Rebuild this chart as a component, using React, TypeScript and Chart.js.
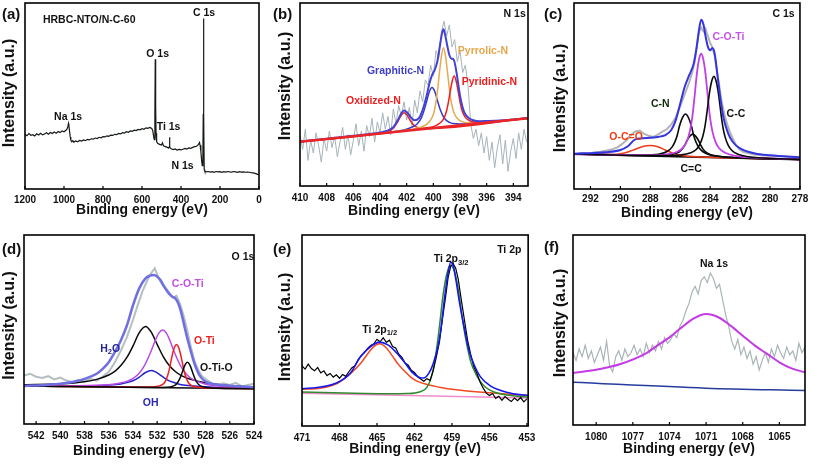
import React, { useEffect, useRef } from "react";
import { Chart, registerables } from "chart.js";

Chart.register(...registerables);

const FONT = '"Liberation Sans", Arial, Helvetica, sans-serif';

// ---------------- (a) survey ----------------
const surveyTicks = [1200, 1000, 800, 600, 400, 200, 0];
const surveyEnergy = [1200,1190,1180,1170,1160,1150,1140,1130,1120,1110,1100,1090,1080,1070,1060,1050,1040,1030,1020,1010,1000,990,985,980,977,975,972,968,965,960,955,950,940,930,920,910,900,890,880,870,860,850,840,830,820,810,800,790,780,770,760,750,740,730,720,710,700,690,680,670,660,650,640,630,620,610,600,590,580,570,560,550,545,540,537,534,532,530,528,525,520,510,500,495,490,480,470,465,461,459,457,450,440,430,420,410,400,390,380,370,360,350,340,330,320,310,305,302,298,294,291,288,286,284.5,283,281,278,270,260,250,240,230,220,210,200,190,180,170,160,150,140,130,120,110,100,90,80,70,60,50,40,30,20,10,0];
const surveyIntensity = [29.4,28.6,29.8,28.9,29.2,28.5,29.7,29.0,29.9,29.1,29.6,30.2,29.5,30.4,29.8,30.6,30.0,30.9,30.3,31.2,30.8,31.6,32.2,33.5,35.2,34.0,31.5,28.0,26.2,25.4,26.0,25.2,25.8,25.4,26.1,25.8,26.4,26.0,26.7,26.4,27.0,26.8,27.4,27.1,27.8,27.5,28.2,28.0,28.6,28.3,29.0,28.8,29.4,29.2,29.9,29.6,30.3,30.1,30.8,30.5,31.2,31.0,31.6,31.4,32.0,31.8,32.4,32.1,32.9,32.6,33.1,32.5,31.5,28.0,26.5,40.0,69.8,45.0,30.0,25.5,24.6,24.0,23.6,24.8,23.2,22.8,22.4,22.0,22.5,27.8,22.3,21.6,21.2,21.5,20.9,21.3,21.0,21.4,21.8,21.5,22.1,21.9,22.4,22.8,23.0,24.0,25.0,23.5,20.0,15.0,12.5,14.0,40.0,91.6,40.0,10.5,9.5,9.2,9.4,9.1,9.3,9.0,9.4,9.2,9.3,9.0,9.3,9.1,9.4,9.2,9.1,9.4,9.2,9.0,9.3,9.1,9.2,9.0,9.1,9.0,8.8,8.7,8.4,8.0,7.6];

// ---------------- (b) N 1s ----------------
const nTicks = [410, 408, 406, 404, 402, 400, 398, 396, 394];
const nRawStart = 410;
const nRawStep = 0.2;
const nRaw = [28,20,31,14,25,18,29,22,13,26,19,30,21,27,16,24,32,20,28,17,25,34,22,30,19,33,27,37,24,35,29,40,31,38,28,42,34,44,38,46,36,43,33,47,40,52,46,58,55,66,60,74,70,84,90,82,88,76,80,68,74,62,66,55,34,26,31,22,29,18,27,14,24,10,21,28,12,25,8,19,26,15,29,20,31,24];
const nBgE = [410, 392.9];
const nBgI = [24.2, 37.0];
const nOxE = [410,404,403.5,403,402.7,402.4,402.2,402,401.7,401.4,401,400.5,392.9];
const nOxI = [24.2,28.8,29.6,31.6,34.7,38.7,40.0,39.0,35.4,32.8,31.6,31.3,37.0];
const nGrE = [410,403,402.4,401.9,401.5,401.2,400.9,400.7,400.5,400.3,400.1,399.9,399.7,399.5,399.2,398.8,398.3,397.6,392.9];
const nGrI = [24.2,29.6,30.3,31.3,32.5,34.0,37.2,41.2,46.3,51.5,53.8,51.8,46.9,42.1,37.3,34.8,34.0,33.9,37.0];
const nPyrE = [410,402.5,401.5,400.7,400.3,400.0,399.84,399.69,399.54,399.39,399.24,399.09,398.94,398.79,398.64,398.44,398.14,397.74,397.24,396.24,392.9];
const nPyrI = [24.2,30.1,31.2,32.8,35.1,39.1,44.2,51.8,62.0,71.1,75.6,71.3,62.4,52.5,45.1,39.8,36.5,34.9,34.5,34.7,37.0];
const nPydE = [410,401.5,400.5,399.9,399.54,399.24,399.04,398.89,398.74,398.59,398.44,398.29,398.14,397.99,397.84,397.64,397.34,396.94,396.44,395.44,392.9];
const nPydI = [24.2,30.7,31.8,32.7,34.2,36.6,40.2,45.0,51.4,57.1,60.1,57.4,51.9,45.7,41.1,37.9,35.9,35.0,34.9,35.3,37.0];
const nEnvE = [410,406,404,403.5,403,402.7,402.4,402.2,402,401.7,401.4,401.1,400.8,400.5,400.3,400.1,399.9,399.7,399.5,399.35,399.24,399.1,398.95,398.8,398.65,398.5,398.35,398.2,398,397.7,397.4,397,396.5,396,395,392.9];
const nEnvI = [24.3,27.4,29.3,30.1,32.2,35.5,39.7,41.2,40.5,37.6,35.9,36.9,41.6,49.4,55.9,60.6,63.3,68.0,76.9,83.4,85.6,82.1,76.5,71.6,69.6,69.3,65.8,59.1,49.4,40.6,37.5,35.9,35.4,35.5,35.8,37.1];

// ---------------- (c) C 1s ----------------
const cTicks = [292, 290, 288, 286, 284, 282, 280, 278];
const cRawE = [293,292.6,292.2,291.8,291.4,291,290.6,290.2,289.9,289.6,289.3,289,288.7,288.4,288.1,287.8,287.5,287.2,286.9,286.6,286.3,286,285.8,285.6,285.4,285.2,285.05,284.9,284.8,284.7,284.6,284.5,284.4,284.3,284.2,284.1,284,283.9,283.8,283.7,283.6,283.5,283.4,283.3,283.2,283.1,283,282.85,282.7,282.5,282.3,282.1,281.8,281.5,281.1,280.6,280,279.4,278.7,278];
const cRawI = [18.6,19.3,18.9,19.6,19.9,20.6,21.2,22.4,24.1,26.2,29.0,30.9,31.4,29.6,28.6,28.0,29.2,30.8,32.1,34.6,38.5,44.6,48.8,53.1,57.4,62.6,68.0,76.3,82.1,85.4,86.8,85.2,84.4,86.0,83.1,81.0,78.5,77.0,74.5,71.6,66.4,60.8,56.0,50.2,45.8,42.0,38.6,34.5,31.0,27.4,24.0,21.7,20.0,19.3,18.6,18.2,17.9,17.6,17.4,17.2];
const cBaseE = [293.1, 278];
const cBaseI = [18.8, 15.9];
const cOcoE = [293.1,291,290.5,290,289.5,289,288.5,288,287.5,287,286.5,286,285.5,285,278];
const cOcoI = [18.8,18.5,18.6,19.0,19.9,21.4,22.9,23.4,22.7,21.0,19.3,18.2,17.6,17.3,15.9];
const cCnE = [293.1,289,288,287.45,286.85,286.55,286.35,286.2,286.05,285.85,285.65,285.45,285.25,285.1,284.95,284.75,284.45,284.05,283.45,282.65,278];
const cCnI = [18.8,18.25,18.35,18.7,20.3,22.5,25.5,28.9,33.9,38.4,40.3,38.3,33.8,28.8,25.3,22.2,19.9,18.4,17.6,17.1,15.9];
const cCdcE = [293.1,287.4,286.76,286.36,286.06,285.86,285.66,285.56,285.36,285.16,284.96,284.76,284.66,284.46,284.26,283.96,283.56,282.96,278];
const cCdcI = [18.8,18.0,18.3,18.9,20.0,21.6,24.1,25.9,28.4,29.5,28.3,25.8,24.0,21.3,19.7,18.4,17.7,17.1,15.9];
const cCotE = [293.1,288,287.2,286.2,285.8,285.55,285.35,285.2,285.1,285.0,284.9,284.8,284.7,284.6,284.5,284.4,284.3,284.2,284.1,284.0,283.85,283.65,283.4,283.0,282.4,281.6,278];
const cCotI = [18.8,18.2,18.4,20.0,22.4,25.8,31.3,38.3,45.2,53.2,61.2,67.2,71.2,72.8,71.1,67.1,61.1,53.1,45.0,38.0,31.0,25.5,21.9,19.5,17.9,17.1,15.9];
const cCcE = [293.1,287,286,285.35,284.95,284.7,284.5,284.35,284.25,284.15,284.05,283.95,283.85,283.75,283.65,283.55,283.45,283.35,283.25,283.15,283.0,282.8,282.55,282.15,281.55,280.75,278];
const cCcI = [18.8,17.95,18.3,19.3,21.1,23.9,28.1,33.5,39.0,45.3,51.6,56.2,59.3,60.6,59.3,56.2,51.5,45.2,38.8,33.3,27.9,23.6,20.7,18.7,17.5,16.8,15.9];
const cEnvE = [293.1,291,290,289.5,289,288,287.5,287,286.6,286.3,286,285.7,285.4,285.1,284.9,284.75,284.6,284.45,284.3,284.15,284.0,283.85,283.7,283.5,283.3,283.1,282.8,282.5,282,281,280,278];
const cEnvI = [19.0,19.8,21.0,23.0,26.7,27.5,28.0,29.0,31.7,37.0,46.0,55.0,61.2,67.4,76.4,85.3,91.0,88.5,81.8,76.4,74.6,75.8,72.8,60.3,47.8,38.0,29.9,25.4,21.8,19.1,18.1,17.0];

// ---------------- (d) O 1s ----------------
const oTicks = [542, 540, 538, 536, 534, 532, 530, 528, 526, 524];
const oRawE = [543,542.5,542,541.5,541,540.5,540,539.5,539,538.5,538,537.5,537,536.5,536,535.5,535,534.5,534,533.6,533.2,532.8,532.5,532.2,531.9,531.6,531.3,531,530.7,530.4,530.1,529.8,529.5,529.2,528.9,528.6,528.3,528,527.5,527,526.5,526,525.5,525,524.5,524];
const oRawI = [25.7,26.6,25.0,24.4,25.3,23.6,24.6,23.0,22.3,23.4,22.8,23.9,22.9,25.1,27.6,32.5,38.8,46.0,55.0,63.0,70.4,76.2,79.8,82.4,77.5,74.0,72.2,69.5,67.0,67.8,63.5,57.0,49.0,40.5,33.0,28.6,25.4,23.8,21.6,20.9,21.5,20.7,21.8,19.9,20.6,21.3];
const oBaseE = [543, 524];
const oBaseI = [20.1, 18.7];
const oH2oE = [543,540,538,537,536,535.5,535,534.5,534,533.5,532.96,532.5,532,531.5,531,530.5,530,529,528,526,524];
const oH2oI = [20.8,21.3,22.4,23.6,25.9,27.8,30.9,35.2,41.2,48.1,51.6,48.7,42.1,35.7,31.0,27.8,25.6,23.2,21.8,20.2,19.6];
const oOhE = [543,538,536,535,534.5,534,533.5,533,532.46,532,531.5,531,530.5,530,529,527,524];
const oOhI = [20.2,20.1,20.6,21.2,21.9,22.9,24.7,27.1,28.3,27.1,24.8,22.8,21.7,20.8,20.1,19.3,18.9];
const oCotE = [543,539.5,536.5,535.05,534.05,533.55,533.05,532.55,532.15,531.85,531.55,531.25,530.95,530.55,530.05,529.55,529.05,528.05,526.55,524];
const oCotI = [20.3,20.2,20.6,21.7,23.9,26.4,30.9,37.8,44.3,48.2,49.7,48.2,44.2,37.6,30.6,26.1,23.6,21.2,19.9,19.15];
const oOtiE = [543,533,532.2,531.7,531.4,531.2,531.0,530.85,530.7,530.55,530.4,530.25,530.1,529.95,529.8,529.6,529.4,529.1,528.6,527.4,524];
const oOtiI = [20.1,19.55,19.7,20.4,21.8,24.4,28.8,33.5,37.9,40.9,42.0,40.9,37.8,33.4,28.7,24.3,21.7,20.1,19.4,19.0,18.7];
const oOtioE = [543,531.5,530.5,530.1,529.9,529.75,529.65,529.5,529.35,529.2,529.05,528.9,528.7,528.5,528.1,527.5,524];
const oOtioI = [20.1,19.35,20.6,24.4,27.9,30.5,31.8,32.7,31.8,29.7,26.9,24.3,21.9,20.5,19.5,19.05,18.7];
const oEnvE = [543,541,540,539,538,537,536.5,536,535.5,535,534.5,534,533.5,533,532.6,532.3,532,531.7,531.4,531,530.7,530.5,530.3,530.1,529.9,529.7,529.5,529.2,529,528.7,528.4,528,527.5,527,526,525,524];
const oEnvI = [20.1,20.8,21.3,22.2,23.9,26.6,29.2,32.7,38.0,44.2,52.1,62.7,71.5,76.8,78.5,78.9,78.0,75.9,72.4,68.8,67.1,66.5,64.4,60.9,56.0,50.4,45.1,38.0,33.6,28.3,24.8,22.5,21.3,20.8,20.2,19.9,19.5];

// ---------------- (e) Ti 2p ----------------
const tTicks = [471, 468, 465, 462, 459, 456, 453];
const tRawE = [471,470.75,470.5,470.25,470,469.75,469.5,469.25,469,468.75,468.5,468.25,468,467.75,467.5,467.25,467,466.75,466.5,466.25,466,465.75,465.5,465.25,465,464.75,464.5,464.25,464,463.75,463.5,463.25,463,462.75,462.5,462.25,462,461.75,461.5,461.25,461,460.75,460.5,460.25,460,459.75,459.5,459.3,459.1,458.9,458.7,458.5,458.25,458,457.75,457.5,457.25,457,456.75,456.5,456.25,456,455.75,455.5,455.25,455,454.75,454.5,454.25,454,453.75,453.5,453.25,453];
const tRawI = [31.5,29.8,32.4,30.1,28.9,30.6,27.8,28.9,26.4,27.5,25.6,26.8,25.0,27.0,26.0,28.4,30.5,31.6,34.8,37.0,38.4,40.6,42.2,43.0,45.4,44.1,46.2,43.8,44.9,41.6,40.8,37.6,35.9,33.0,31.8,29.2,28.0,25.8,24.6,23.4,24.8,23.9,29.0,36.0,44.0,56.5,68.0,78.0,83.6,85.0,82.6,77.0,66.0,55.5,45.0,37.5,31.0,27.6,23.0,19.8,17.2,16.0,17.0,14.5,15.6,13.5,15.4,14.0,12.8,14.6,13.2,14.9,12.6,14.2];
const tBaseE = [471, 452.9];
const tBaseI = [17.2, 14.6];
const tP32E = [471,466,464.1,462.6,461.6,461,460.6,460.3,460,459.7,459.4,459.1,458.8,458.5,458.2,457.9,457.5,457,456.5,456,455.1,454.1,452.9];
const tP32I = [17.8,17.05,16.9,17.0,17.8,20.2,26.7,37.1,52.1,69.0,80.0,84.1,80.9,71.8,57.8,45.7,33.7,26.1,21.5,18.9,16.8,15.8,15.1];
const tP12E = [471,469.5,468.2,467.1,466.3,465.8,465.3,464.8,464.3,463.8,463.3,462.9,462.3,461.8,461,460,459,458,456,454,452.9];
const tP12I = [19.2,19.8,22.2,27.5,32.8,37.3,41.3,43.0,41.2,37.0,32.3,29.5,25.6,23.5,21.7,20.3,19.2,18.5,17.4,16.5,16.0];
const tEnvE = [471,469.5,468.2,467.1,466.35,465.56,464.8,464.13,463.48,462.8,462.2,461.65,461.26,460.87,460.5,460.1,459.85,459.6,459.3,459.1,458.9,458.65,458.4,458,457.6,457.2,456.7,455.9,455.1,454.1,452.9];
const tEnvI = [19.5,20.4,22.6,27.9,36.0,41.3,43.9,42.5,38.7,33.4,28.2,25.6,25.1,27.4,32.6,42.2,52.6,66.6,80.5,85.7,84.0,75.3,64.8,50.9,38.7,31.7,25.6,20.9,18.6,16.9,16.0];

// ---------------- (f) Na 1s ----------------
const naTicks = [1080, 1077, 1074, 1071, 1068, 1065];
const naRawStart = 1081.9;
const naRawStep = 0.25;
const naRaw = [38,34,40,36,42,35,39,33,37,41,34,44,31,28,36,39,34,40,36,38,42,37,40,36,43,38,42,39,44,40,46,43,45,48,46,52,55,60,64,70,73,69,76,78,75,80,77,72,74,66,58,52,44,40,45,37,41,35,39,32,36,29,34,38,33,40,36,42,38,35,41,37,39,34,43,38,41];
const naBaseE = [1081.9, 1071, 1062.9];
const naBaseI = [22.5, 19.4, 18.1];
const naFitE = [1081.9,1080,1078,1076,1075,1074,1073,1072,1071,1070,1069,1068,1067,1066,1065,1064,1062.9];
const naFitI = [27.4,29.1,32.1,37.4,41.8,46.1,51.4,56.1,58.4,56.7,52.3,47.0,41.8,37.4,33.0,29.8,27.7];

// ---------------- types & helpers ----------------
type Series = { xs: number[]; ys: number[]; color: string; width: number; smooth?: boolean };
type Part = { t: string; sub?: boolean };
type Note = { parts: Part[]; x: number; y: number; color?: string; align?: "left" | "center" | "right" };
type PanelSpec = {
  letter: string; left: number; top: number; w: number; h: number;
  padL: number; padR: number; padT: number; axisH: number;
  xMin: number; xMax: number; ticks: number[]; tickPad: number;
  xTitleY: number; yTitleX: number; yTitleY: number; letterY: number;
  series: Series[]; notes: Note[];
};

const gridX = (start: number, step: number, n: number) => Array.from({ length: n }, (_, i) => +(start - step * i).toFixed(3));
const T = (t: string): Part[] => [{ t }];

const PANELS: PanelSpec[] = [
  {
    letter: "(a)", left: 0, top: 0, w: 271, h: 232, padL: 25, padR: 12, padT: 3, axisH: 43,
    xMin: 0, xMax: 1200, ticks: surveyTicks, tickPad: 5, xTitleY: 210, yTitleX: 10, yTitleY: 93, letterY: 14.5,
    series: [{ xs: surveyEnergy, ys: surveyIntensity, color: "#141a14", width: 1.2 }],
    notes: [
      { parts: T("HRBC-NTO/N-C-60"), x: 1108, y: 90.6, align: "left" },
      { parts: T("C 1s"), x: 282, y: 94.4 },
      { parts: T("O 1s"), x: 520, y: 72.7 },
      { parts: T("Na 1s"), x: 979, y: 38.8 },
      { parts: T("Ti 1s"), x: 464, y: 33.4 },
      { parts: T("N 1s"), x: 392, y: 12.3 },
    ],
  },
  {
    letter: "(b)", left: 271, top: 0, w: 271, h: 232, padL: 29, padR: 14, padT: 3, axisH: 46,
    xMin: 392.9, xMax: 410, ticks: nTicks, tickPad: 6, xTitleY: 211, yTitleX: 15, yTitleY: 86, letterY: 14.5,
    series: [
      { xs: nBgE, ys: nBgI, color: "#e8262a", width: 2.5 },
      { xs: nEnvE, ys: nEnvI, color: "#4242d6", width: 2, smooth: true },
      { xs: nPydE, ys: nPydI, color: "#ee2020", width: 1.5, smooth: true },
      { xs: nPyrE, ys: nPyrI, color: "#e7a94f", width: 1.5, smooth: true },
      { xs: nGrE, ys: nGrI, color: "#3a3ac6", width: 1.5, smooth: true },
      { xs: nOxE, ys: nOxI, color: "#ee2020", width: 1.5, smooth: true },
      { xs: gridX(nRawStart, nRawStep, nRaw.length), ys: nRaw, color: "#a6b3b8", width: 1 },
    ],
    notes: [
      { parts: T("N 1s"), x: 393.9, y: 93.7 },
      { parts: T("Graphitic-N"), x: 402.84, y: 62.8, color: "#3d3dc8" },
      { parts: T("Pyrrolic-N"), x: 396.28, y: 73.8, color: "#e6a64a" },
      { parts: T("Pyridinic-N"), x: 395.79, y: 56.6, color: "#ee1c1c" },
      { parts: T("Oxidized-N"), x: 404.49, y: 46.4, color: "#ee1c1c" },
    ],
  },
  {
    letter: "(c)", left: 542, top: 0, w: 271, h: 232, padL: 32, padR: 10, padT: 3, axisH: 43,
    xMin: 278, xMax: 293.1, ticks: cTicks, tickPad: 4.7, xTitleY: 213, yTitleX: 19, yTitleY: 98, letterY: 14.5,
    series: [
      { xs: cEnvE, ys: cEnvI, color: "#3535e0", width: 2, smooth: true },
      { xs: cCcE, ys: cCcI, color: "#0a0a0a", width: 1.6, smooth: true },
      { xs: cCotE, ys: cCotI, color: "#c040e8", width: 1.8, smooth: true },
      { xs: cCdcE, ys: cCdcI, color: "#0a0a0a", width: 1.6, smooth: true },
      { xs: cCnE, ys: cCnI, color: "#0a0a0a", width: 1.6, smooth: true },
      { xs: cOcoE, ys: cOcoI, color: "#f03a1a", width: 1.5, smooth: true },
      { xs: cBaseE, ys: cBaseI, color: "#0a0a0a", width: 2 },
      { xs: cRawE, ys: cRawI, color: "#b3b3b3", width: 2 },
    ],
    notes: [
      { parts: T("C 1s"), x: 279.1, y: 93.8 },
      { parts: T("C-O-Ti"), x: 282.78, y: 81.5, color: "#c454e8" },
      { parts: T("C-N"), x: 287.33, y: 45.7, color: "#0e2a0e" },
      { parts: T("C-C"), x: 282.28, y: 40.3 },
      { parts: T("O-C=O"), x: 289.62, y: 27.7, color: "#f03a10" },
      { parts: T("C=C"), x: 285.27, y: 10.8 },
    ],
  },
  {
    letter: "(d)", left: 0, top: 232, w: 271, h: 233, padL: 24, padR: 17, padT: 3, axisH: 41,
    xMin: 524, xMax: 543, ticks: oTicks, tickPad: 6.3, xTitleY: 219, yTitleX: 10, yTitleY: 93.5, letterY: 17.5,
    series: [
      { xs: oEnvE, ys: oEnvI, color: "#6f6fe3", width: 2.5, smooth: true },
      { xs: oOtioE, ys: oOtioI, color: "#0a0a0a", width: 1.5, smooth: true },
      { xs: oOtiE, ys: oOtiI, color: "#f21d1d", width: 1.5, smooth: true },
      { xs: oCotE, ys: oCotI, color: "#b84ae6", width: 1.5, smooth: true },
      { xs: oOhE, ys: oOhI, color: "#2323c8", width: 1.5, smooth: true },
      { xs: oH2oE, ys: oH2oI, color: "#0a0a0a", width: 1.5, smooth: true },
      { xs: oBaseE, ys: oBaseI, color: "#0a0a0a", width: 1.5 },
      { xs: oRawE, ys: oRawI, color: "#b5bfbf", width: 2 },
    ],
    notes: [
      { parts: T("O 1s"), x: 524.91, y: 88.1 },
      { parts: T("C-O-Ti"), x: 529.47, y: 73.8, color: "#c050e0" },
      { parts: [{ t: "H" }, { t: "2", sub: true }, { t: "O" }], x: 535.88, y: 39.7, color: "#252595" },
      { parts: T("O-Ti"), x: 528.1, y: 43.9, color: "#f02020" },
      { parts: T("O-Ti-O"), x: 527.11, y: 29.6 },
      { parts: T("OH"), x: 532.53, y: 11.1, color: "#2828b0" },
    ],
  },
  {
    letter: "(e)", left: 271, top: 232, w: 271, h: 233, padL: 31, padR: 9, padT: 3, axisH: 39,
    xMin: 452.9, xMax: 471, ticks: tTicks, tickPad: 6.7, xTitleY: 216.5, yTitleX: 15, yTitleY: 95, letterY: 17.5,
    series: [
      { xs: tEnvE, ys: tEnvI, color: "#1515f0", width: 1.6, smooth: true },
      { xs: tRawE, ys: tRawI, color: "#000000", width: 1.2 },
      { xs: tP32E, ys: tP32I, color: "#2f8a2f", width: 1.5, smooth: true },
      { xs: tP12E, ys: tP12I, color: "#f24a22", width: 1.5, smooth: true },
      { xs: tBaseE, ys: tBaseI, color: "#f28ccc", width: 1.5 },
    ],
    notes: [
      { parts: T("Ti 2p"), x: 454.41, y: 92.1 },
      { parts: [{ t: "Ti 2p" }, { t: "3/2", sub: true }], x: 459.07, y: 87.4 },
      { parts: [{ t: "Ti 2p" }, { t: "1/2", sub: true }], x: 464.78, y: 50.3 },
    ],
  },
  {
    letter: "(f)", left: 542, top: 232, w: 271, h: 233, padL: 31, padR: 8, padT: 3, axisH: 40,
    xMin: 1062.9, xMax: 1081.9, ticks: naTicks, tickPad: 6.5, xTitleY: 216.5, yTitleX: 19, yTitleY: 91, letterY: 15.5,
    series: [
      { xs: naFitE, ys: naFitI, color: "#c43be6", width: 2, smooth: true },
      { xs: naBaseE, ys: naBaseI, color: "#283c9e", width: 1.5, smooth: true },
      { xs: gridX(naRawStart, naRawStep, naRaw.length), ys: naRaw, color: "#a9b5b5", width: 1.2 },
    ],
    notes: [{ parts: T("Na 1s"), x: 1070.35, y: 84.5 }],
  },
];

function drawParts(ctx: CanvasRenderingContext2D, parts: Part[], x: number, y: number, align: string, size: number) {
  const subSize = size * 0.72;
  const widths = parts.map((p) => {
    ctx.font = `bold ${p.sub ? subSize : size}px ${FONT}`;
    return ctx.measureText(p.t).width;
  });
  const total = widths.reduce((a, b) => a + b, 0);
  let cx = align === "left" ? x : align === "right" ? x - total : x - total / 2;
  ctx.textAlign = "left";
  ctx.textBaseline = "middle";
  parts.forEach((p, i) => {
    ctx.font = `bold ${p.sub ? subSize : size}px ${FONT}`;
    ctx.fillText(p.t, cx, p.sub ? y + size * 0.32 : y);
    cx += widths[i];
  });
}

function decor(spec: PanelSpec) {
  return {
    id: "decor" + spec.letter.replace(/[()]/g, ""),
    afterDraw(chart: any) {
      const { ctx, chartArea: a, scales } = chart;
      const xs = scales.x;
      const ys = scales.y;
      ctx.save();
      ctx.strokeStyle = "#000";
      ctx.lineWidth = 1.6;
      ctx.strokeRect(a.left, a.top, a.right - a.left, a.bottom - a.top);
      ctx.lineWidth = 1.2;
      for (const t of spec.ticks) {
        const px = xs.getPixelForValue(t);
        ctx.beginPath();
        ctx.moveTo(px, a.bottom);
        ctx.lineTo(px, a.bottom - 3);
        ctx.stroke();
      }
      for (const n of spec.notes) {
        ctx.fillStyle = n.color || "#111";
        drawParts(ctx, n.parts, xs.getPixelForValue(n.x), ys.getPixelForValue(n.y), n.align || "center", 10.5);
      }
      ctx.fillStyle = "#111";
      ctx.font = `bold 15px ${FONT}`;
      ctx.textAlign = "left";
      ctx.textBaseline = "middle";
      ctx.fillText(spec.letter, 2, spec.letterY);
      ctx.save();
      ctx.translate((a.left + a.right) / 2, spec.xTitleY);
      ctx.scale(0.93, 1);
      ctx.font = `bold 15px ${FONT}`;
      ctx.textAlign = "center";
      ctx.textBaseline = "middle";
      ctx.fillText("Binding energy (eV)", 0, 0);
      ctx.restore();
      ctx.save();
      ctx.translate(spec.yTitleX, spec.yTitleY);
      ctx.rotate(-Math.PI / 2);
      ctx.font = `bold 16px ${FONT}`;
      ctx.textAlign = "center";
      ctx.textBaseline = "middle";
      ctx.fillText("Intensity (a.u.)", 0, 0);
      ctx.restore();
      ctx.restore();
    },
  };
}

function Panel({ spec }: { spec: PanelSpec }) {
  const ref = useRef<HTMLCanvasElement>(null);
  useEffect(() => {
    const chart = new Chart(ref.current as HTMLCanvasElement, {
      type: "line",
      data: {
        datasets: spec.series.map((s) => ({
          data: s.xs.map((x, i) => ({ x, y: s.ys[i] })),
          borderColor: s.color,
          borderWidth: s.width,
          pointRadius: 0,
          fill: false,
          tension: 0,
          cubicInterpolationMode: s.smooth ? "monotone" : "default",
        })),
      } as any,
      options: {
        animation: false,
        responsive: false,
        maintainAspectRatio: false,
        events: [],
        layout: { padding: { left: spec.padL, right: spec.padR, top: spec.padT, bottom: 0 } },
        plugins: { legend: { display: false }, tooltip: { enabled: false }, title: { display: false } },
        scales: {
          x: {
            type: "linear",
            reverse: true,
            min: spec.xMin,
            max: spec.xMax,
            afterBuildTicks: (sc: any) => {
              sc.ticks = spec.ticks.map((v) => ({ value: v }));
            },
            afterFit: (sc: any) => {
              sc.height = spec.axisH;
            },
            grid: { display: false, drawTicks: false },
            border: { display: false },
            ticks: {
              autoSkip: false,
              maxRotation: 0,
              minRotation: 0,
              padding: spec.tickPad,
              color: "#111",
              font: { family: FONT, size: 10, weight: "bold" },
              callback: (v: any) => String(v),
            },
          },
          y: { display: false, min: 0, max: 100 },
        },
      } as any,
      plugins: [decor(spec)],
    });
    return () => chart.destroy();
  }, [spec]);
  return (
    <canvas
      ref={ref}
      width={spec.w}
      height={spec.h}
      style={{ position: "absolute", left: spec.left, top: spec.top, width: spec.w, height: spec.h }}
    />
  );
}

export default function App() {
  return (
    <div style={{ position: "fixed", left: 0, top: 0, width: 813, height: 465, background: "#fff", overflow: "hidden" }}>
      {PANELS.map((p) => (
        <Panel key={p.letter} spec={p} />
      ))}
    </div>
  );
}
